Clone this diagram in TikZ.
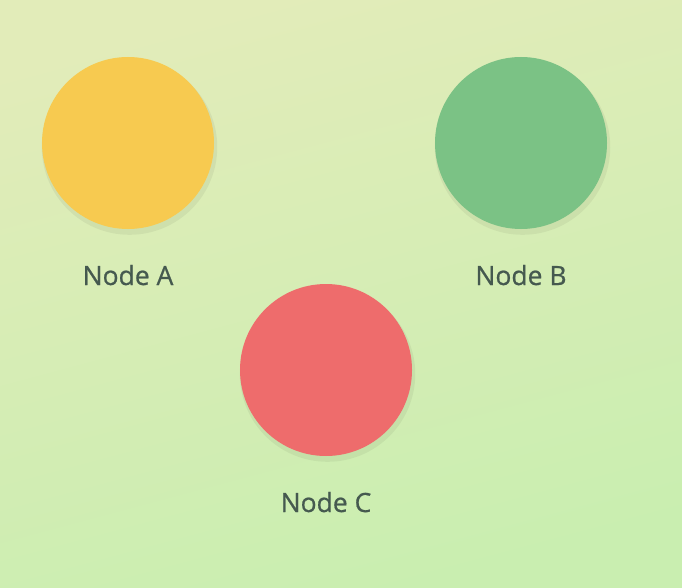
\documentclass[tikz,border=0pt]{standalone}
\usepackage{fontspec}
\setmainfont{Open Sans}
\newfontfamily\labelfont{Open Sans}[FakeBold=0.7]
\usetikzlibrary{shadows}
\definecolor{bgtop}{HTML}{E2ECB9}
\definecolor{bgbot}{HTML}{C9EEB0}
\definecolor{yellowA}{HTML}{F7CA50}
\definecolor{greenB}{HTML}{7BC285}
\definecolor{redC}{HTML}{EE6C6C}
\definecolor{labelgray}{HTML}{45594F}
\begin{document}
\begin{tikzpicture}[x=1pt,y=-1pt,
  dot/.style={circle,minimum size=172pt,inner sep=0pt,
    drop shadow={shadow xshift=1.5pt,shadow yshift=-4pt,shadow scale=1.02,opacity=0.05,fill=black}},
  caption/.style={anchor=base,text=labelgray,font=\labelfont\fontsize{26.5}{31}\selectfont}]
 \useasboundingbox (0,0) rectangle (682,588);
 \shade[top color=bgtop,bottom color=bgbot,shading angle=15] (0,0) rectangle (682,588);
 % circles
 \node[dot,fill=yellowA] (nodeA) at (128,143) {};
 \node[dot,fill=greenB] (nodeB) at (521,143) {};
 \node[dot,fill=redC] (nodeC) at (326,370) {};
 % labels
 \node[caption] (labelA) at (128,285) {Node A};
 \node[caption] (labelB) at (521,285) {Node B};
 \node[caption] (labelC) at (326,512) {Node C};
\end{tikzpicture}
\end{document}
